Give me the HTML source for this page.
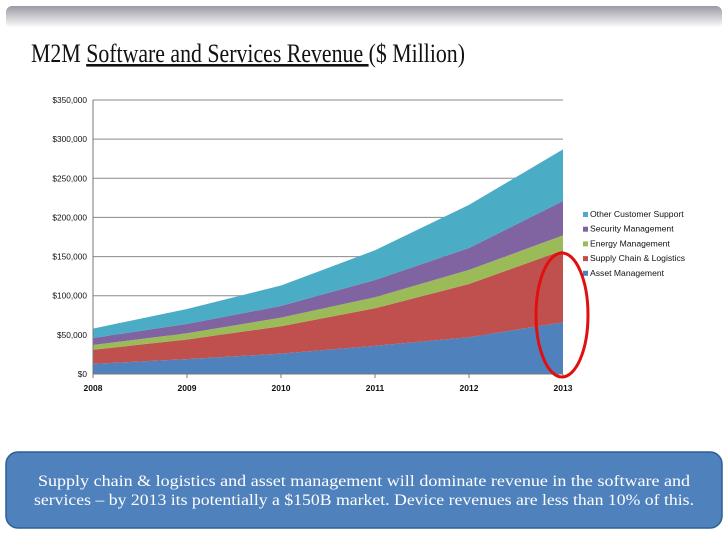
<!DOCTYPE html>
<html><head><meta charset="utf-8"><style>
body{margin:0;background:#fff;}
svg{display:block;font-family:"Liberation Sans",sans-serif;}
</style></head><body>
<svg id="c" width="728" height="546" viewBox="0 0 728 546">
<defs>
<linearGradient id="tg" x1="0" y1="0" x2="0" y2="1"><stop offset="0" stop-color="#9a9aa4"/><stop offset="1" stop-color="#ffffff"/></linearGradient>
</defs>
<rect x="6" y="6" width="716" height="22" rx="6" fill="url(#tg)"/>
<text x="31" y="62" font-family="Liberation Serif, serif" font-size="26" fill="#111" textLength="434" lengthAdjust="spacingAndGlyphs">M2M <tspan text-decoration="underline">Software and Services Revenue </tspan>($ Million)</text>
<g id="grid"></g><g id="areas"></g><g id="axes"></g><g id="legend"></g>
<ellipse cx="562" cy="315" rx="26" ry="62" fill="none" stroke="#e01010" stroke-width="3"/>
<rect x="6" y="452" width="716" height="76" rx="12" fill="#4f81bd" stroke="#2f5f94" stroke-width="1.5"/>
<text x="364" y="486" text-anchor="middle" font-family="Liberation Serif, serif" font-size="15.5" fill="#fff" textLength="652" lengthAdjust="spacingAndGlyphs">Supply chain &amp; logistics and asset management will dominate revenue in the software and</text>
<text x="364" y="505" text-anchor="middle" font-family="Liberation Serif, serif" font-size="15.5" fill="#fff" textLength="660" lengthAdjust="spacingAndGlyphs">services – by 2013 its potentially a $150B market.  Device revenues are less than 10% of this.</text>
</svg>
<script>
const years=["2008","2009","2010","2011","2012","2013"];
const assetMgmt=[13000,19000,26000,36000,47000,66000];
const supplyChain=[18000,25000,35000,48000,68000,92000];
const energyMgmt=[6000,8000,11000,14000,18000,19000];
const securityMgmt=[9000,12000,15000,22000,28000,44000];
const otherSupport=[12000,19000,26000,38000,55000,66000];
const yTicks=[0,50000,100000,150000,200000,250000,300000,350000];
const yTickLabels=["$0","$50,000","$100,000","$150,000","$200,000","$250,000","$300,000","$350,000"];
const seriesNames=["Asset Management","Supply Chain & Logistics","Energy Management","Security Management","Other Customer Support"];
const seriesColors=["#4f81bd","#c0504d","#9bbb59","#8064a2","#4bacc6"];
const NS="http://www.w3.org/2000/svg";
const X0=93,X1=563,Y0=374,Y1=100,YMAX=350000;
const xs=i=>X0+(X1-X0)*i/(years.length-1);
const ys=v=>Y0-(Y0-Y1)*v/YMAX;
function mk(t,a,p){const e=document.createElementNS(NS,t);for(const k in a)e.setAttribute(k,a[k]);p.appendChild(e);return e;}
const grid=document.getElementById('grid'),axes=document.getElementById('axes'),areas=document.getElementById('areas'),leg=document.getElementById('legend');
yTicks.forEach((v,i)=>{
  const y=ys(v);
  if(v>0){const l=mk('line',{x1:X0,x2:X1,y1:y,y2:y,stroke:'#8a8a8a','stroke-width':1},grid);
  
  }
  const t=mk('text',{x:X0-6,y:y+3,'text-anchor':'end','font-size':8.3,fill:'#111'},axes);
  t.textContent=yTickLabels[i];
  
  
});
const series=[assetMgmt,supplyChain,energyMgmt,securityMgmt,otherSupport];
let base=years.map(()=>0);
series.forEach((s,k)=>{
  const top=base.map((b,i)=>b+s[i]);
  let d='M'+years.map((_,i)=>xs(i)+','+ys(top[i])).join(' L');
  for(let i=years.length-1;i>=0;i--)d+=' L'+xs(i)+','+ys(base[i]);
  const p=mk('path',{d:d+'Z',fill:seriesColors[k]},areas);
  
  
  base=top;
});
mk('line',{x1:X0,x2:X0,y1:Y1,y2:Y0,stroke:'#777'},axes);
mk('line',{x1:X0,x2:X1,y1:Y0,y2:Y0,stroke:'#777'},axes);
years.forEach((yr,i)=>{
  mk('line',{x1:xs(i),x2:xs(i),y1:Y0,y2:Y0+4,stroke:'#777'},axes);
  const t=mk('text',{x:xs(i),y:Y0+17,'text-anchor':'middle','font-size':8.5,'font-weight':'bold',fill:'#111'},axes);
  t.textContent=yr;
  
  
});
for(let k=seriesNames.length-1;k>=0;k--){
  const y=217+(seriesNames.length-1-k)*14.7;
  const r=mk('rect',{x:583,y:y-5,width:5,height:5,fill:seriesColors[k]},leg);
  
  
  const t=mk('text',{x:590,y:y,'font-size':8.6,fill:'#111'},leg);
  t.textContent=seriesNames[k];
  
  
}
</script>
</body></html>
